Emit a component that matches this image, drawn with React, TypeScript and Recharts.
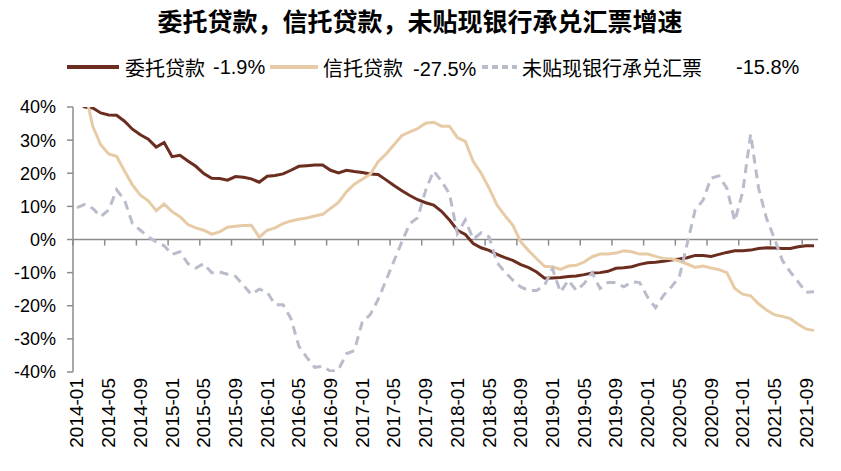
import React from "react";
import { LineChart, Line, XAxis, YAxis, ReferenceLine } from "recharts";

const months: string[] = [
  "2014-01","2014-02","2014-03","2014-04","2014-05","2014-06","2014-07","2014-08","2014-09","2014-10","2014-11","2014-12",
  "2015-01","2015-02","2015-03","2015-04","2015-05","2015-06","2015-07","2015-08","2015-09","2015-10","2015-11","2015-12",
  "2016-01","2016-02","2016-03","2016-04","2016-05","2016-06","2016-07","2016-08","2016-09","2016-10","2016-11","2016-12",
  "2017-01","2017-02","2017-03","2017-04","2017-05","2017-06","2017-07","2017-08","2017-09","2017-10","2017-11","2017-12",
  "2018-01","2018-02","2018-03","2018-04","2018-05","2018-06","2018-07","2018-08","2018-09","2018-10","2018-11","2018-12",
  "2019-01","2019-02","2019-03","2019-04","2019-05","2019-06","2019-07","2019-08","2019-09","2019-10","2019-11","2019-12",
  "2020-01","2020-02","2020-03","2020-04","2020-05","2020-06","2020-07","2020-08","2020-09","2020-10","2020-11","2020-12",
  "2021-01","2021-02","2021-03","2021-04","2021-05","2021-06","2021-07","2021-08","2021-09","2021-10"
];

const xTickLabels: string[] = [
  "2014-01","2014-05","2014-09","2015-01","2015-05","2015-09","2016-01","2016-05","2016-09",
  "2017-01","2017-05","2017-09","2018-01","2018-05","2018-09","2019-01","2019-05","2019-09",
  "2020-01","2020-05","2020-09","2021-01","2021-05","2021-09"
];

const yTicks: number[] = [-40, -30, -20, -10, 0, 10, 20, 30, 40];

// 委托贷款
const entrustLoans: number[] = [
  41.5, 40.0, 39.7, 38.2, 37.6, 37.5, 35.7, 33.3, 31.6, 30.3, 27.9, 29.3,
  25.0, 25.4, 23.7, 22.1, 19.9, 18.5, 18.4, 17.9, 19.0, 18.8, 18.3, 17.3,
  19.1, 19.3, 19.8, 20.9, 22.1, 22.3, 22.5, 22.5, 20.9, 20.1, 20.9, 20.5,
  20.2, 19.8, 19.6, 18.0, 16.3, 14.7, 13.3, 12.0, 11.1, 10.4, 8.5, 5.9,
  2.8, 1.5, -1.2, -2.5, -3.3, -4.5, -5.5, -6.3, -7.6, -8.5, -9.8, -11.7,
  -11.6, -11.5, -11.2, -11.0, -10.6, -10.1, -10.0, -9.6, -8.7, -8.5, -8.2, -7.5,
  -7.0, -6.9, -6.6, -6.2, -5.9, -5.5, -4.8, -4.8, -5.1, -4.5, -3.9, -3.4,
  -3.4, -3.2, -2.7, -2.5, -2.6, -2.7, -2.7, -2.2, -1.9, -1.9
];

// 信托贷款
const trustLoans: number[] = [
  48.0, 45.0, 34.1, 28.6, 25.8, 25.1, 20.7, 16.5, 13.4, 11.7, 8.7, 10.7,
  8.4, 6.9, 4.5, 3.5, 2.8, 1.6, 2.3, 3.7, 4.0, 4.2, 4.3, 0.7,
  2.8, 3.5, 4.8, 5.6, 6.1, 6.5, 7.1, 7.6, 9.4, 11.2, 14.4, 16.7,
  18.2, 19.7, 23.5, 25.8, 28.6, 31.4, 32.5, 33.5, 35.1, 35.4, 34.2, 34.2,
  30.8, 29.6, 23.5, 20.0, 15.5, 10.4, 7.2, 4.3, -0.7, -3.4, -5.8, -8.1,
  -8.3, -9.0, -8.0, -7.8, -6.8, -5.2, -4.4, -4.4, -4.1, -3.4, -3.7, -4.4,
  -4.4, -5.1, -5.7, -5.8, -6.5, -7.4, -8.4, -8.0, -8.6, -9.1, -10.0, -14.8,
  -16.5, -17.0, -19.4, -21.3, -22.7, -23.2, -23.9, -25.6, -27.0, -27.5
];

// 未贴现银行承兑汇票
const undiscountedBills: number[] = [
  9.6, 10.6, 9.4, 6.9, 8.9, 15.0, 11.9, 4.8, 2.8, 0.8, -0.7, -1.9,
  -4.5, -3.7, -7.3, -8.6, -7.3, -10.0, -9.8, -10.5, -11.1, -13.8, -16.6, -15.0,
  -15.9, -19.7, -19.7, -23.9, -32.2, -35.6, -38.6, -38.3, -39.8, -39.3, -34.5, -33.5,
  -24.9, -22.7, -18.1, -12.3, -6.5, -0.7, 4.8, 6.6, 14.9, 20.7, 17.6, 13.8,
  1.8, 5.9, 0.1, 2.0, 0.8, -7.0, -9.8, -12.3, -14.3, -15.4, -15.4, -13.8,
  -8.8, -15.9, -12.3, -15.4, -13.3, -10.0, -14.8, -13.0, -13.0, -14.3, -12.8, -13.0,
  -17.4, -20.6, -16.9, -14.3, -11.3, -1.2, 8.9, 11.9, 18.5, 19.2, 15.5, 5.6,
  14.4, 31.8, 15.5, 6.4, 0.3, -6.3, -9.8, -12.8, -15.9, -15.8
];

const seriesNames: string[] = ["委托贷款", "信托贷款", "未贴现银行承兑汇票"];
const titleText = "委托贷款，信托贷款，未贴现银行承兑汇票增速";

const COLORS = ["#6B2D1F", "#E6CBA6", "#B9BDCB"];
const AXIS = "#8C8C8C";
const FONT = "'Liberation Sans', Arial, 'Noto Sans CJK SC', sans-serif";

const W = 841;
const H = 471;
const PLOT_LEFT = 73;
const PLOT_RIGHT = 818;
const PLOT_TOP = 107;
const PLOT_BOTTOM = 372;
const N = months.length;
const BAND = (PLOT_RIGHT - PLOT_LEFT) / N;
const ZERO_Y = PLOT_TOP + (PLOT_BOTTOM - PLOT_TOP) / 2;
const LABEL_Y = 378;

const data = months.map((m, i) => ({
  idx: i + 0.5,
  month: m,
  entrust: entrustLoans[i],
  trust: trustLoans[i],
  bills: undiscountedBills[i],
}));

const tickIdx = xTickLabels.map((l) => months.indexOf(l));

const XTick = (props: any) => {
  const { x, payload } = props;
  const v = payload.value as number;
  const label = months[v];
  const cx = x + BAND / 2;
  return (
    <g>
      <line x1={x} x2={x} y1={ZERO_Y} y2={ZERO_Y + 6} stroke={AXIS} strokeWidth={1.5} />
      <text
        x={cx}
        y={LABEL_Y}
        transform={`rotate(-90 ${cx} ${LABEL_Y})`}
        textAnchor="end"
        dominantBaseline="central"
        fontSize={19}
        fontFamily={FONT}
        fill="#000"
      >
        {label}
      </text>
    </g>
  );
};

const lastVals = [entrustLoans, trustLoans, undiscountedBills].map(
  (arr) => `${arr[arr.length - 1].toFixed(1)}%`
);

const legendLeft = [67, 270, 482];
const sampleW = [52, 48, 35];
const nameGap = [6, 5, 5];
const valueGap = [8, 10, 34];

const Legend = () => (
  <div style={{ position: "absolute", top: 55, left: 0, width: W, height: 24, fontFamily: FONT, fontSize: 20, color: "#000" }}>
    {seriesNames.map((name, i) => (
      <div
        key={name}
        style={{ position: "absolute", left: legendLeft[i], top: 0, display: "flex", alignItems: "center", height: 24, whiteSpace: "nowrap" }}
      >
        <svg width={sampleW[i]} height={8} style={{ display: "block" }}>
          <line
            x1={0}
            x2={sampleW[i]}
            y1={4}
            y2={4}
            stroke={COLORS[i]}
            strokeWidth={4}
            strokeDasharray={i === 2 ? "6 4" : undefined}
          />
        </svg>
        <span style={{ marginLeft: nameGap[i] }}>{name}</span>
        <span style={{ marginLeft: valueGap[i], position: "relative", top: i === 1 ? 2 : 0 }}>{lastVals[i]}</span>
      </div>
    ))}
  </div>
);

export default function App() {
  return (
    <div style={{ position: "fixed", left: 0, top: 0, width: W, height: H, background: "#fff", overflow: "hidden" }}>
      <div
        style={{
          position: "absolute",
          top: 10,
          left: 0,
          width: 840,
          textAlign: "center",
          fontFamily: FONT,
          fontWeight: 700,
          fontSize: 25,
          lineHeight: "25px",
          color: "#000",
        }}
      >
        {titleText}
      </div>
      <Legend />
      <div style={{ position: "absolute", left: 0, top: 0 }}>
        <LineChart width={W} height={H} data={data} margin={{ top: PLOT_TOP, right: W - PLOT_RIGHT, left: 0, bottom: H - PLOT_BOTTOM - 30 }}>
          <XAxis
            dataKey="idx"
            type="number"
            domain={[0, N]}
            ticks={tickIdx}
            interval={0}
            axisLine={false}
            tickLine={false}
            tick={<XTick />}
            height={30}
            allowDataOverflow
          />
          <YAxis
            type="number"
            domain={[-40, 40]}
            ticks={yTicks}
            interval={0}
            width={PLOT_LEFT}
            allowDataOverflow
            tickFormatter={(v: number) => `${v}%`}
            axisLine={{ stroke: AXIS, strokeWidth: 1.5 }}
            tickLine={{ stroke: AXIS, strokeWidth: 1.5 }}
            tickSize={6}
            tickMargin={11}
            tick={{ fontSize: 18, fill: "#000", fontFamily: FONT }}
          />
          <ReferenceLine y={0} stroke={AXIS} strokeWidth={1.5} ifOverflow="visible" />
          <Line
            dataKey="entrust"
            name={seriesNames[0]}
            stroke={COLORS[0]}
            strokeWidth={3}
            dot={false}
            activeDot={false}
            isAnimationActive={false}
          />
          <Line
            dataKey="trust"
            name={seriesNames[1]}
            stroke={COLORS[1]}
            strokeWidth={3}
            dot={false}
            activeDot={false}
            isAnimationActive={false}
          />
          <Line
            dataKey="bills"
            name={seriesNames[2]}
            stroke={COLORS[2]}
            strokeWidth={3}
            strokeDasharray="9 6"
            dot={false}
            activeDot={false}
            isAnimationActive={false}
          />
        </LineChart>
      </div>
    </div>
  );
}
